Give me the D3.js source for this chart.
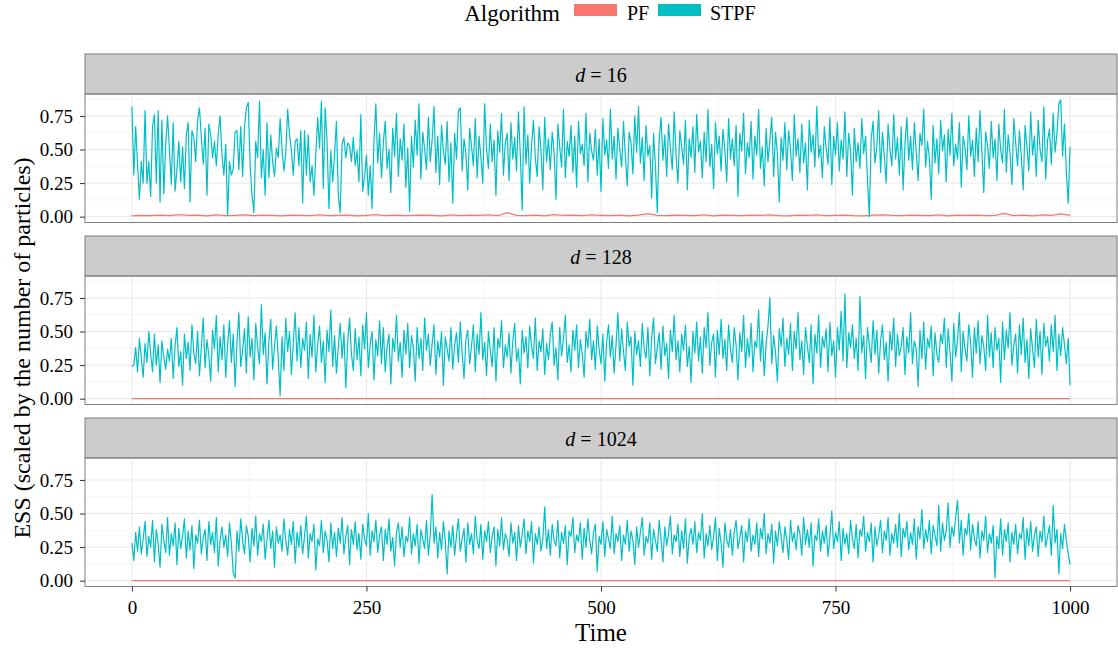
<!DOCTYPE html>
<html>
<head>
<meta charset="utf-8">
<script src="https://cdn.jsdelivr.net/npm/d3@7"></script>
<style>
  body { margin: 0; background: #fff; }
</style>
</head>
<body>
<div id="chart"></div>
<script>
// facets, series and ticks
var dims = ['16', '128', '1024']
var algorithms = ['PF', 'STPF']
var xTicks = [0, 250, 500, 750, 1000]
var xMinor = [125, 375, 625, 875]
var yTicks = [0, 0.25, 0.5, 0.75]
var yMinor = [0.125, 0.375, 0.625, 0.875]

// time spacing of each stored series
var stpfStep = 2
var pf16Step = 10
var pfFlatStep = 100

// STPF, d = 16 (every 2nd time step)
var stpf16 = [
  .82,.31,.67,.39,.13,.41,.25,.79,.25,.41,
  .15,.67,.76,.25,.79,.11,.72,.17,.54,.75,
  .5,.24,.7,.19,.35,.56,.26,.52,.21,.61,
  .7,.11,.64,.59,.41,.72,.81,.59,.39,.66,
  .16,.69,.61,.44,.56,.38,.61,.75,.46,.31,
  .54,.01,.41,.31,.36,.63,.64,.35,.67,.3,
  .66,.81,.85,.39,.16,.03,.56,.44,.86,.29,
  .5,.16,.7,.29,.61,.41,.3,.51,.44,.73,
  .51,.34,.47,.8,.61,.5,.31,.56,.58,.38,
  .64,.1,.64,.31,.61,.26,.38,.16,.46,.74,
  .51,.86,.21,.81,.56,.06,.49,.26,.46,.71,
  .16,.03,.54,.59,.44,.55,.53,.41,.59,.38,
  .49,.26,.76,.19,.3,.46,.16,.38,.06,.56,
  .84,.4,.62,.29,.55,.71,.36,.5,.18,.66,
  .45,.77,.3,.58,.42,.69,.22,.51,.04,.6,
  .37,.72,.46,.84,.28,.63,.5,.35,.74,.41,
  .57,.82,.33,.6,.24,.68,.49,.39,.71,.26,
  .55,.1,.62,.43,.79,.81,.34,.58,.47,.2,
  .66,.52,.38,.73,.29,.6,.44,.25,.84,.5,
  .36,.69,.41,.57,.16,.64,.48,.77,.31,.55,
  .62,.27,.7,.43,.59,.34,.78,.46,.05,.82,
  .39,.61,.25,.53,.72,.44,.3,.67,.5,.2,
  .74,.41,.58,.35,.63,.48,.13,.69,.52,.37,
  .8,.29,.56,.45,.68,.33,.6,.22,.71,.47,
  .54,.38,.77,.26,.62,.49,.42,.65,.31,.58,
  .19,.73,.46,.57,.36,.8,.43,.6,.28,.66,
  .5,.37,.71,.44,.23,.63,.55,.32,.75,.48,
  .82,.4,.59,.27,.68,.45,.53,.14,.62,.38,
  .03,.57,.74,.42,.61,.3,.69,.5,.35,.78,
  .46,.25,.64,.52,.39,.72,.2,.58,.44,.67,
  .33,.76,.48,.56,.29,.63,.41,.8,.37,.54,
  .21,.7,.47,.6,.34,.65,.5,.26,.73,.43,
  .58,.38,.68,.15,.62,.49,.77,.32,.55,.44,
  .71,.28,.6,.46,.8,.36,.52,.23,.66,.41,
  .57,.74,.3,.63,.47,.11,.59,.42,.7,.35,
  .64,.5,.27,.76,.45,.58,.33,.69,.4,.55,
  .2,.72,.48,.61,.37,.82,.44,.53,.29,.67,
  .51,.39,.74,.24,.6,.46,.7,.34,.57,.43,
  .78,.3,.62,.49,.16,.66,.41,.55,.36,.73,
  .47,.6,.28,.0,.58,.71,.4,.52,.79,.33,
  .63,.45,.25,.69,.5,.38,.76,.43,.59,.31,
  .67,.2,.54,.74,.42,.6,.35,.7,.48,.27,
  .62,.53,.8,.37,.56,.44,.13,.68,.4,.58,
  .32,.72,.49,.61,.26,.65,.46,.77,.38,.54,
  .43,.7,.22,.6,.51,.35,.75,.45,.57,.3,
  .66,.41,.79,.48,.18,.63,.53,.36,.71,.44,
  .58,.27,.69,.5,.4,.8,.33,.61,.47,.24,
  .73,.55,.38,.64,.45,.2,.68,.52,.34,.78,
  .46,.6,.3,.72,.5,.41,.82,.28,.57,.65,
  .39,.77,.48,.62,.84,.87,.45,.69,.33,.1,
  .52
]

// STPF, d = 128
var stpf128 = [
  .24,.25,.38,.2,.45,.3,.16,.41,.27,.5,
  .33,.2,.48,.25,.4,.12,.43,.31,.22,.37,
  .28,.45,.15,.39,.53,.24,.35,.1,.48,.3,
  .42,.21,.55,.34,.26,.5,.17,.38,.6,.23,
  .44,.32,.13,.51,.37,.62,.2,.46,.29,.55,
  .16,.4,.58,.27,.48,.09,.42,.64,.24,.36,
  .52,.19,.61,.31,.45,.14,.56,.38,.26,.7,
  .33,.49,.11,.43,.59,.22,.39,.54,.3,.02,
  .46,.21,.6,.35,.5,.18,.41,.64,.28,.53,
  .23,.45,.36,.57,.15,.48,.31,.62,.2,.4,
  .54,.27,.43,.12,.51,.35,.66,.24,.47,.19,
  .38,.56,.3,.49,.08,.42,.6,.33,.21,.52,
  .29,.46,.17,.55,.37,.64,.23,.41,.5,.14,
  .44,.32,.58,.26,.53,.2,.39,.48,.11,.45,
  .35,.62,.28,.42,.16,.51,.33,.56,.23,.47,
  .38,.13,.53,.3,.45,.21,.6,.36,.48,.25,
  .41,.55,.18,.43,.31,.5,.1,.46,.37,.28,
  .53,.22,.4,.49,.27,.57,.34,.15,.44,.51,
  .26,.39,.55,.2,.48,.33,.64,.29,.42,.17,
  .5,.36,.24,.53,.13,.45,.38,.58,.23,.4,
  .31,.49,.19,.43,.56,.28,.37,.11,.51,.34,
  .46,.23,.54,.39,.3,.6,.21,.43,.35,.52,
  .18,.41,.29,.48,.57,.25,.38,.14,.53,.32,
  .45,.62,.27,.4,.2,.51,.36,.55,.23,.44,
  .33,.16,.5,.38,.59,.29,.43,.22,.54,.37,
  .26,.48,.13,.42,.55,.31,.47,.19,.4,.64,
  .28,.52,.35,.21,.57,.39,.46,.1,.5,.33,
  .43,.24,.56,.37,.3,.53,.17,.45,.6,.26,
  .38,.49,.22,.54,.32,.41,.15,.51,.35,.62,
  .29,.43,.2,.48,.36,.55,.24,.39,.12,.5,
  .34,.57,.28,.46,.19,.53,.38,.64,.25,.42,
  .48,.16,.51,.33,.59,.3,.44,.21,.55,.37,
  .27,.53,.4,.14,.49,.35,.62,.23,.45,.31,
  .56,.2,.43,.38,.66,.28,.5,.17,.41,.54,
  .75,.26,.47,.35,.13,.52,.39,.6,.24,.45,
  .33,.56,.21,.5,.37,.64,.29,.43,.18,.53,
  .39,.27,.55,.11,.48,.34,.62,.23,.46,.38,
  .52,.2,.57,.32,.43,.16,.53,.36,.65,.28,
  .78,.23,.49,.38,.55,.3,.45,.21,.76,.34,
  .47,.15,.53,.4,.27,.58,.33,.51,.19,.43,
  .55,.29,.42,.13,.5,.36,.6,.24,.48,.32,
  .39,.53,.18,.46,.34,.64,.26,.43,.37,.09,
  .51,.3,.57,.22,.45,.38,.54,.17,.49,.33,
  .27,.48,.41,.6,.23,.52,.35,.13,.56,.31,
  .44,.64,.2,.5,.37,.28,.55,.42,.16,.53,
  .34,.58,.26,.47,.39,.21,.62,.31,.49,.23,
  .53,.36,.45,.12,.57,.29,.51,.38,.64,.25,
  .4,.48,.19,.55,.33,.6,.27,.44,.15,.52,
  .37,.23,.59,.31,.5,.18,.56,.39,.46,.28,
  .55,.35,.62,.21,.48,.32,.53,.4,.26,.45,
  .1
]

// STPF, d = 1024
var stpf1024 = [
  .28,.15,.36,.22,.4,.2,.31,.44,.18,.33,
  .25,.45,.14,.38,.27,.1,.42,.3,.21,.47,
  .19,.35,.26,.43,.12,.39,.24,.33,.46,.17,
  .37,.23,.41,.09,.34,.28,.45,.2,.32,.38,
  .15,.44,.27,.36,.21,.47,.11,.3,.4,.25,
  .34,.18,.43,.28,.06,.02,.37,.22,.46,.3,
  .2,.41,.33,.14,.39,.26,.48,.19,.35,.29,
  .42,.16,.31,.45,.24,.37,.1,.4,.28,.34,
  .22,.46,.3,.19,.38,.27,.44,.13,.36,.25,
  .41,.2,.33,.48,.17,.35,.29,.42,.08,.31,
  .26,.45,.21,.37,.3,.14,.43,.24,.36,.18,
  .39,.28,.47,.2,.33,.41,.12,.38,.27,.44,
  .23,.35,.16,.42,.31,.26,.5,.19,.37,.29,
  .45,.21,.34,.4,.15,.38,.27,.46,.22,.32,
  .11,.36,.43,.25,.4,.18,.33,.29,.47,.2,
  .35,.26,.42,.13,.38,.31,.24,.45,.19,.34,
  .64,.28,.4,.17,.36,.23,.44,.3,.05,.37,
  .25,.41,.19,.34,.46,.22,.31,.39,.14,.43,
  .27,.35,.2,.48,.3,.24,.42,.16,.37,.29,
  .44,.21,.33,.4,.11,.38,.26,.47,.23,.35,
  .3,.18,.43,.28,.36,.15,.41,.25,.34,.46,
  .2,.37,.29,.44,.13,.35,.27,.4,.22,.31,
  .55,.24,.38,.19,.42,.3,.26,.45,.17,.36,
  .28,.41,.12,.37,.33,.47,.21,.34,.29,.43,
  .16,.39,.25,.46,.3,.2,.36,.42,.07,.33,
  .27,.44,.18,.38,.31,.24,.48,.2,.35,.29,
  .41,.15,.34,.27,.45,.22,.37,.3,.12,.4,
  .25,.36,.47,.19,.33,.28,.43,.16,.38,.3,
  .22,.45,.31,.14,.4,.26,.35,.48,.2,.34,
  .29,.42,.18,.37,.24,.46,.13,.32,.39,.27,
  .44,.21,.36,.3,.5,.17,.35,.26,.41,.23,
  .33,.47,.15,.39,.28,.1,.43,.31,.25,.38,
  .19,.36,.45,.24,.32,.41,.14,.37,.29,.46,
  .22,.34,.27,.43,.18,.39,.31,.5,.2,.35,
  .28,.42,.13,.37,.26,.44,.33,.21,.4,.3,
  .16,.45,.29,.36,.23,.41,.35,.19,.47,.27,
  .38,.25,.43,.11,.34,.3,.46,.22,.37,.28,
  .41,.18,.33,.52,.24,.36,.29,.44,.15,.39,
  .27,.35,.2,.45,.31,.24,.42,.17,.38,.33,
  .48,.22,.36,.29,.43,.14,.4,.26,.34,.45,
  .21,.37,.3,.47,.19,.35,.28,.42,.25,.5,
  .18,.39,.32,.44,.23,.36,.27,.46,.16,.4,
  .31,.53,.24,.38,.29,.45,.2,.41,.34,.26,
  .56,.22,.43,.3,.37,.58,.25,.4,.33,.47,
  .6,.28,.45,.19,.39,.34,.5,.23,.42,.31,
  .26,.44,.17,.37,.3,.48,.21,.35,.28,.41,
  .02,.33,.24,.46,.19,.38,.29,.43,.14,.36,
  .27,.42,.2,.35,.31,.47,.16,.39,.26,.44,
  .22,.34,.4,.18,.37,.29,.48,.25,.33,.41,
  .19,.56,.28,.38,.05,.35,.24,.42,.3,.2,
  .12
]

// PF, d = 16 (every 10th time step)
var pf16 = [
  .006,.010,.008,.012,.007,.015,.009,.011,.006,.013,
  .008,.010,.014,.007,.012,.009,.006,.011,.010,.008,
  .013,.007,.009,.012,.006,.010,.015,.008,.011,.007,
  .009,.012,.010,.006,.014,.008,.011,.009,.013,.007,
  .030,.010,.008,.012,.006,.015,.009,.011,.007,.013,
  .010,.008,.012,.006,.011,.022,.009,.007,.012,.010,
  .008,.013,.006,.011,.009,.007,.012,.010,.014,.008,
  .006,.011,.009,.013,.007,.010,.012,.008,.006,.011,
  .014,.009,.007,.012,.010,.008,.013,.006,.011,.009,
  .012,.007,.010,.024,.008,.011,.006,.013,.009,.020,
  .010
]

// PF, d = 128 and d = 1024 (flat near zero, every 100th step)
var pf128 = [.001,.001,.001,.001,.001,.001,.001,.001,.001,.001,.001]
var pf1024 = [.001,.001,.001,.001,.001,.001,.001,.001,.001,.001,.001]

var panels = [
  { label: dims[0], pf: pf16, pfStep: pf16Step, stpf: stpf16 },
  { label: dims[1], pf: pf128, pfStep: pfFlatStep, stpf: stpf128 },
  { label: dims[2], pf: pf1024, pfStep: pfFlatStep, stpf: stpf1024 }
]

var colors = { PF: '#F8766D', STPF: '#00BFC4' }
var serif = '"Liberation Serif", "DejaVu Serif", serif'

var width = 1118, height = 648
var left = 85, right = 1117
var top0 = 54, stripH = 40, plotH = 128.5, panelStep = 182

var svg = d3.select('#chart').append('svg')
  .attr('width', width)
  .attr('height', height)

var x = d3.scaleLinear().domain([-50, 1050]).range([left, right])

var allVals = [].concat(stpf16, stpf128, stpf1024, pf16, pf128, pf1024)
var ymax = d3.max(allVals), ymin = 0
var pad = (ymax - ymin) * 0.05
var y = d3.scaleLinear().domain([ymin - pad, ymax + pad]).range([stripH + plotH, stripH])

panels.forEach(function (p, i) {
  var g = svg.append('g').attr('transform', 'translate(0,' + (top0 + i * panelStep) + ')')

  // strip
  g.append('rect')
    .attr('x', left).attr('y', 0)
    .attr('width', right - left).attr('height', stripH)
    .attr('fill', '#cccccc').attr('stroke', '#7f7f7f').attr('stroke-width', 1)

  var st = g.append('text')
    .attr('x', (left + right) / 2).attr('y', 27.5)
    .attr('text-anchor', 'middle')
    .style('font-size', '20px')
  st.append('tspan').style('font-style', 'italic').text('d')
  st.append('tspan').text(' = ' + p.label)

  // minor grid
  g.selectAll('.xminor').data(xMinor).enter().append('line')
    .attr('x1', x).attr('x2', x)
    .attr('y1', stripH).attr('y2', stripH + plotH)
    .attr('stroke', '#f5f5f5').attr('stroke-width', 1)
  g.selectAll('.yminor').data(yMinor).enter().append('line')
    .attr('x1', left).attr('x2', right)
    .attr('y1', y).attr('y2', y)
    .attr('stroke', '#f5f5f5').attr('stroke-width', 1)

  // major grid
  g.selectAll('.xmajor').data(xTicks).enter().append('line')
    .attr('x1', x).attr('x2', x)
    .attr('y1', stripH).attr('y2', stripH + plotH)
    .attr('stroke', '#e8e8e8').attr('stroke-width', 1)
  g.selectAll('.ymajor').data(yTicks).enter().append('line')
    .attr('x1', left).attr('x2', right)
    .attr('y1', y).attr('y2', y)
    .attr('stroke', '#e8e8e8').attr('stroke-width', 1)

  // series
  var pfLine = d3.line().x(function (d, j) { return x(j * p.pfStep) }).y(function (d) { return y(d) })
  var stLine = d3.line().x(function (d, j) { return x(j * stpfStep) }).y(function (d) { return y(d) })

  g.append('path').datum(p.pf)
    .attr('d', pfLine).attr('fill', 'none')
    .attr('stroke', colors.PF).attr('stroke-width', 1.2)
  g.append('path').datum(p.stpf)
    .attr('d', stLine).attr('fill', 'none')
    .attr('stroke', colors.STPF).attr('stroke-width', 1.2)
    .attr('stroke-linejoin', 'round')

  // panel border
  g.append('rect')
    .attr('x', left).attr('y', stripH)
    .attr('width', right - left).attr('height', plotH)
    .attr('fill', 'none').attr('stroke', '#7f7f7f').attr('stroke-width', 1)

  // y axis
  var ya = g.append('g').attr('transform', 'translate(' + left + ',0)')
    .call(d3.axisLeft(y).tickValues(yTicks).tickFormat(d3.format('.2f')).tickSize(5).tickPadding(7))
  ya.select('.domain').remove()
  ya.selectAll('text').style('font-size', '19px')
  ya.selectAll('line').attr('stroke', '#333')

  if (i === panels.length - 1) {
    var xa = g.append('g').attr('transform', 'translate(0,' + (stripH + plotH) + ')')
      .call(d3.axisBottom(x).tickValues(xTicks).tickFormat(d3.format('d')).tickSize(5).tickPadding(9))
    xa.select('.domain').remove()
    xa.selectAll('text').style('font-size', '19px')
    xa.selectAll('line').attr('stroke', '#333')
  }
})

// axis titles
svg.append('text')
  .attr('x', (left + right) / 2).attr('y', 641)
  .attr('text-anchor', 'middle')
  .style('font-size', '25px')
  .text('Time')

svg.append('text')
  .attr('transform', 'translate(30,348) rotate(-90)')
  .attr('text-anchor', 'middle')
  .style('font-size', '24px')
  .text('ESS (scaled by the number of particles)')

// legend
var legend = svg.append('g')
legend.append('text').attr('x', 560).attr('y', 21)
  .attr('text-anchor', 'end').style('font-size', '23px').text('Algorithm')
var keyX = [574, 658]
var labX = [627, 710]
algorithms.forEach(function (a, i) {
  legend.append('rect')
    .attr('x', keyX[i]).attr('y', 4)
    .attr('width', 43).attr('height', 12)
    .attr('fill', colors[a])
  legend.append('text').attr('x', labX[i]).attr('y', 20).style('font-size', '20px').text(a)
})

svg.selectAll('text').style('font-family', serif).attr('fill', '#000')
</script>
</body>
</html>
